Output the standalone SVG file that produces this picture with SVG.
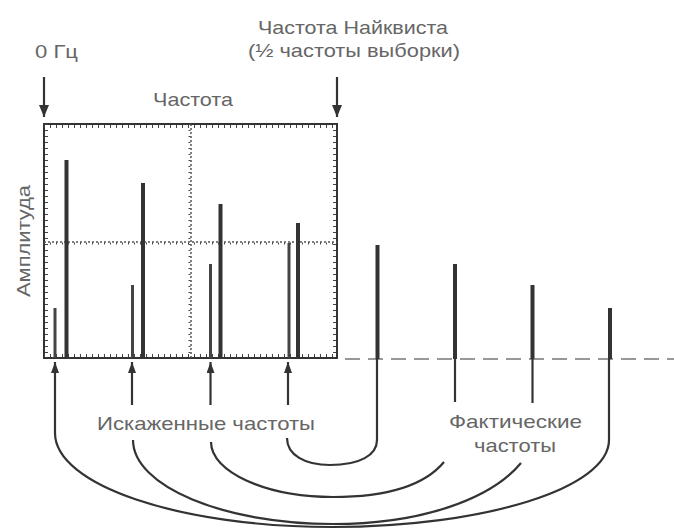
<svg xmlns="http://www.w3.org/2000/svg" width="674" height="530" viewBox="0 0 674 530">
<defs>
<style>
.t{font-family:"Liberation Sans",Arial,sans-serif;font-size:19px;fill:#666}
.ln{fill:none;stroke:#333;stroke-width:2.2}
.bar{stroke:#333;stroke-width:4}
.bars{stroke:#444;stroke-width:3}
.tick{stroke:#444;stroke-width:3;stroke-dasharray:1 5}
.dot{stroke:#555;stroke-width:1.5;stroke-dasharray:2 2}
</style>
<marker id="dn" viewBox="0 0 10 12" refX="5" refY="12" markerWidth="10" markerHeight="12" markerUnits="userSpaceOnUse" orient="0">
<path d="M0,0 L10,0 L5,12 Z" fill="#333"/>
</marker>
<marker id="up" viewBox="0 0 8 11" refX="4" refY="0" markerWidth="8" markerHeight="11" markerUnits="userSpaceOnUse" orient="0">
<path d="M4,0 L8,11 L0,11 Z" fill="#333"/>
</marker>
</defs>
<rect width="674" height="530" fill="#fff"/>

<g id="labels-top">
<text class="t" x="35" y="58" textLength="43" lengthAdjust="spacingAndGlyphs">0 Гц</text>
<text class="t" x="258" y="34" textLength="190" lengthAdjust="spacingAndGlyphs">Частота Найквиста</text>
<text class="t" x="248" y="57" textLength="212" lengthAdjust="spacingAndGlyphs">(½ частоты выборки)</text>
<text class="t" x="153" y="106" textLength="80" lengthAdjust="spacingAndGlyphs">Частота</text>
<text class="t" transform="translate(30,297) rotate(-90)" x="0" y="0" textLength="112" lengthAdjust="spacingAndGlyphs">Амплитуда</text>
</g>

<g id="plot">
<rect x="44" y="124" width="293" height="234" fill="none" stroke="#333" stroke-width="2"/>
<line class="tick" x1="44" y1="126.5" x2="337" y2="126.5"/>
<line class="tick" x1="44" y1="355.5" x2="337" y2="355.5"/>
<line class="tick" x1="46.5" y1="124" x2="46.5" y2="358"/>
<line class="tick" x1="334.5" y1="124" x2="334.5" y2="358"/>
<line class="dot" x1="191" y1="124" x2="191" y2="358"/>
<line class="dot" x1="44" y1="242" x2="337" y2="242"/>
<line class="tick" x1="189.5" y1="124" x2="189.5" y2="358" style="stroke-width:2;stroke-dasharray:1 5"/>
<line class="tick" x1="44" y1="243.5" x2="337" y2="243.5" style="stroke-width:2;stroke-dasharray:1 5"/>
</g>

<g id="aliased-bars">
<line class="bars" x1="55" y1="308" x2="55" y2="358"/>
<line class="bar" x1="66.5" y1="160" x2="66.5" y2="358"/>
<line class="bars" x1="132.5" y1="285" x2="132.5" y2="358"/>
<line class="bar" x1="143" y1="183" x2="143" y2="358"/>
<line class="bars" x1="210.5" y1="264" x2="210.5" y2="358"/>
<line class="bar" x1="220.5" y1="204" x2="220.5" y2="358"/>
<line class="bars" x1="289" y1="243" x2="289" y2="358"/>
<line class="bar" x1="298" y1="223" x2="298" y2="358"/>
</g>

<g id="actual-bars">
<line x1="345" y1="359" x2="674" y2="359" stroke="#777" stroke-width="1.5" stroke-dasharray="15 8"/>
<line class="bar" x1="377.5" y1="245" x2="377.5" y2="359"/>
<line class="bar" x1="455" y1="264" x2="455" y2="359"/>
<line class="bar" x1="532.5" y1="285" x2="532.5" y2="359"/>
<line class="bar" x1="610" y1="308" x2="610" y2="359"/>
</g>

<g id="connectors">
<line class="ln" x1="44" y1="77" x2="44" y2="117" marker-end="url(#dn)"/>
<line class="ln" x1="337" y1="77" x2="337" y2="117" marker-end="url(#dn)"/>
<path class="ln" d="M55,362 V433 C55,485 179,527 332,527 C485,527 609,488 609,440 V359" marker-start="url(#up)"/>
<path class="ln" d="M132,362 V405" marker-start="url(#up)"/>
<path class="ln" d="M210.5,362 V405" marker-start="url(#up)"/>
<path class="ln" d="M288,362 V405" marker-start="url(#up)"/>
<path class="ln" d="M133,440 C133,486 223,524 333,524 C420,524 490,500 521,463"/>
<path class="ln" d="M211,442 C211,472 266,497 333,497 C390,497 425,485 444,462"/>
<path class="ln" d="M287,438 C287,455 305,465 330,465 C360,465 377,455 377,440 V359"/>
<path class="ln" d="M455,359 V402"/>
<path class="ln" d="M532.5,359 V403"/>
</g>

<g id="labels-bottom">
<text class="t" x="97" y="430" textLength="218" lengthAdjust="spacingAndGlyphs">Искаженные частоты</text>
<text class="t" x="449" y="428" textLength="133" lengthAdjust="spacingAndGlyphs">Фактические</text>
<text class="t" x="474" y="452" textLength="82" lengthAdjust="spacingAndGlyphs">частоты</text>
</g>
</svg>
